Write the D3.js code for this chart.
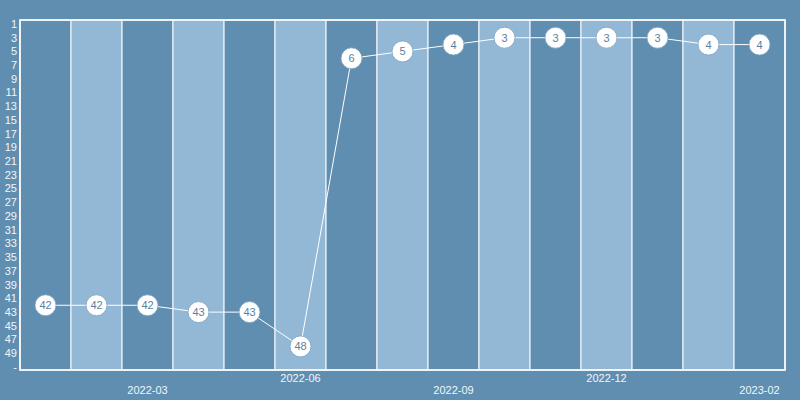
<!DOCTYPE html>
<html>
<head>
<meta charset="utf-8">
<script src="https://cdnjs.cloudflare.com/ajax/libs/d3/7.8.5/d3.min.js"></script>
<style>
  body { margin: 0; background: #5f8eb0; }
  svg { display: block; }
  .tick-text { font-family: "Liberation Sans", Arial, sans-serif; font-size: 11px; fill: #f2f6f9; }
  .pt-text { font-family: "Liberation Sans", Arial, sans-serif; font-size: 11px; fill: #5b7f9e; }
</style>
</head>
<body>
<div id="chart"></div>
<script>
// one column per period, rank shown in each bubble
var periods = [1, 2, 3, 4, 5, 6, 7, 8, 9, 10, 11, 12, 13, 14, 15];
var ranks = [42, 42, 42, 43, 43, 48, 6, 5, 4, 3, 3, 3, 3, 4, 4];
var xTickIdx = [2, 5, 8, 11, 14];
var xTickLabels = ["2022-03", "2022-06", "2022-09", "2022-12", "2023-02"];
var yTicks = [1, 3, 5, 7, 9, 11, 13, 15, 17, 19, 21, 23, 25, 27, 29, 31, 33, 35, 37, 39, 41, 43, 45, 47, 49, 51];
var yTickLabels = ["1", "3", "5", "7", "9", "11", "13", "15", "17", "19", "21", "23", "25", "27", "29", "31", "33", "35", "37", "39", "41", "43", "45", "47", "49", "-"];

var W = 800, H = 400;
var pLeft = 20, pRight = 785, pTop = 20, pBottom = 370;

var svg = d3.select("#chart").append("svg").attr("width", W).attr("height", H);
svg.append("rect").attr("width", W).attr("height", H).attr("fill", "#5f8eb0");

var x = d3.scaleBand().domain(periods).range([pLeft, pRight]).padding(0);
var y = d3.scaleLinear().domain([1, 51]).range([24, 367]);

// alternating columns
svg.selectAll("rect.col")
  .data(periods)
  .enter().append("rect")
  .attr("class", "col")
  .attr("x", function(d){ return x(d); })
  .attr("y", pTop)
  .attr("width", x.bandwidth())
  .attr("height", pBottom - pTop)
  .attr("fill", function(d, i){ return i % 2 ? "#93b8d5" : "#5f8eb0"; })
  .attr("stroke", "#e6eef5")
  .attr("stroke-width", 1.3);

// frame
svg.append("rect")
  .attr("x", pLeft).attr("y", pTop)
  .attr("width", pRight - pLeft).attr("height", pBottom - pTop)
  .attr("fill", "none").attr("stroke", "#ffffff").attr("stroke-width", 1.5);

// y axis labels
svg.selectAll("text.ylab")
  .data(yTicks)
  .enter().append("text")
  .attr("class", "tick-text")
  .attr("x", 17)
  .attr("y", function(d){ return y(d); })
  .attr("dy", "0.35em")
  .attr("text-anchor", "end")
  .text(function(d, i){ return yTickLabels[i]; });

// x labels, staggered
svg.selectAll("text.xlab")
  .data(xTickIdx)
  .enter().append("text")
  .attr("class", "tick-text")
  .attr("x", function(d){ return x(periods[d]) + x.bandwidth() / 2; })
  .attr("y", function(d, i){ return i % 2 ? 382 : 394; })
  .attr("text-anchor", "middle")
  .text(function(d, i){ return xTickLabels[i]; });

// line
var line = d3.line()
  .x(function(d, i){ return x(periods[i]) + x.bandwidth() / 2; })
  .y(function(d){ return y(d); });

svg.append("path")
  .datum(ranks)
  .attr("d", line)
  .attr("fill", "none")
  .attr("stroke", "#ffffff")
  .attr("stroke-width", 1);

// bubbles
var pts = svg.selectAll("g.pt")
  .data(ranks)
  .enter().append("g")
  .attr("transform", function(d, i){ return "translate(" + (x(periods[i]) + x.bandwidth() / 2) + "," + y(d) + ")"; });

pts.append("circle")
  .attr("r", 10.5)
  .attr("fill", "#ffffff")
  .attr("stroke", "#7fa3c0")
  .attr("stroke-width", 0.8);

pts.append("text")
  .attr("class", "pt-text")
  .attr("text-anchor", "middle")
  .attr("dy", "0.36em")
  .text(function(d){ return d; });
</script>
</body>
</html>
